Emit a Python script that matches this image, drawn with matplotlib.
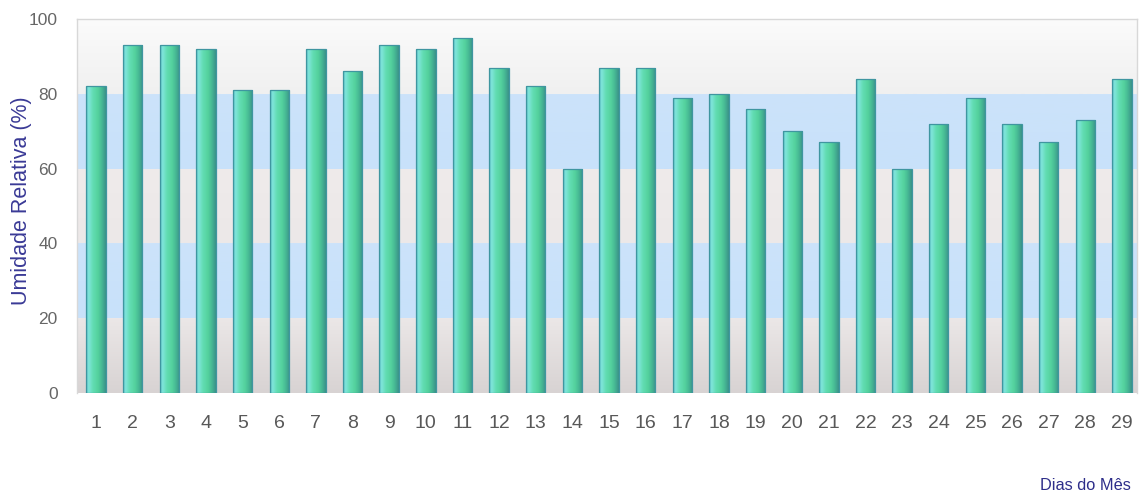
import numpy as np
import matplotlib
matplotlib.use("Agg")
import matplotlib.pyplot as plt
from matplotlib.colors import LinearSegmentedColormap

days = list(range(1, 30))
umidade = [82, 93, 93, 92, 81, 81, 92, 86, 93, 92, 95, 87, 82, 60, 87, 87,
           79, 80, 76, 70, 67, 84, 60, 72, 79, 72, 67, 73, 84]
y_ticks = [0, 20, 40, 60, 80, 100]
y_label = "Umidade Relativa (%)"
x_label = "Dias do Mês"

plt.rcParams['font.family'] = ['Liberation Sans', 'DejaVu Sans']

W, H = 1139, 495
fig = plt.figure(figsize=(W / 100, H / 100), dpi=100)
ax = fig.add_axes([77 / W, 1 - 393 / H, (1137 - 77) / W, (393 - 19) / H])
ax.set_xlim(0.48, 29.41)
ax.set_ylim(0, 100)

# background bands (gradients)
band_specs = [
    (0, 20, '#d8d3d3', '#ebe7e7'),
    (20, 40, '#c8e1fa', '#cce3fa'),
    (40, 60, '#ece8e8', '#efebeb'),
    (60, 80, '#c8e1fa', '#cce3fa'),
    (80, 100, '#f0f0f0', '#fbfbfb'),
]
for y0, y1, c0, c1 in band_specs:
    cm = LinearSegmentedColormap.from_list('b', [c0, c1])
    grad = np.linspace(0, 1, 64).reshape(-1, 1)
    ax.imshow(grad, extent=(0.48, 29.41, y0, y1), origin='lower',
              cmap=cm, aspect='auto', zorder=0, interpolation='bilinear')

# bars
bars = ax.bar(days, umidade, width=0.53, color='#58d4a4',
              edgecolor='#3f96a0', linewidth=0.9, zorder=3)
bar_cmap = LinearSegmentedColormap.from_list(
    'bar', [(0.0, '#56b8c0'), (0.12, '#80e6dc'), (0.35, '#62dcb2'),
            (0.6, '#54d29e'), (0.8, '#46b894'), (1.0, '#3a9288')])
gx = np.linspace(0, 1, 64).reshape(1, -1)
for b in bars:
    x0 = b.get_x()
    w = b.get_width()
    h = b.get_height()
    im = ax.imshow(gx, extent=(x0, x0 + w, 0, h), cmap=bar_cmap,
                   aspect='auto', zorder=2.5, interpolation='bilinear')
    im.set_clip_path(b)
    b.set_facecolor('none')

ax.set_xlim(0.48, 29.41)
ax.set_ylim(0, 100)

ax.set_xticks(days)
ax.set_xticklabels([str(d) for d in days], fontsize=14, color='#585858')
ax.set_yticks(y_ticks)
ax.set_yticklabels([str(v) for v in y_ticks], fontsize=12.5, color='#666666')
ax.tick_params(axis='both', length=0)
ax.tick_params(axis='y', pad=14)
for lbl in ax.get_xticklabels():
    lbl.set_verticalalignment('center')
ax.tick_params(axis='x', pad=22)

for s in ['top', 'left', 'right']:
    ax.spines[s].set_color('#d8d8d8')
    ax.spines[s].set_linewidth(1.0)
ax.spines['bottom'].set_visible(False)

fig.text(22 / W, 1 - 201 / H, y_label, rotation=90, ha='center', va='center',
         fontsize=15.5, color='#3a3a96')
fig.text(1131 / W, 1 - 486 / H, x_label, ha='right', va='center',
         fontsize=11.8, color='#2e2e8a')

fig.savefig('out.png', dpi=100)
